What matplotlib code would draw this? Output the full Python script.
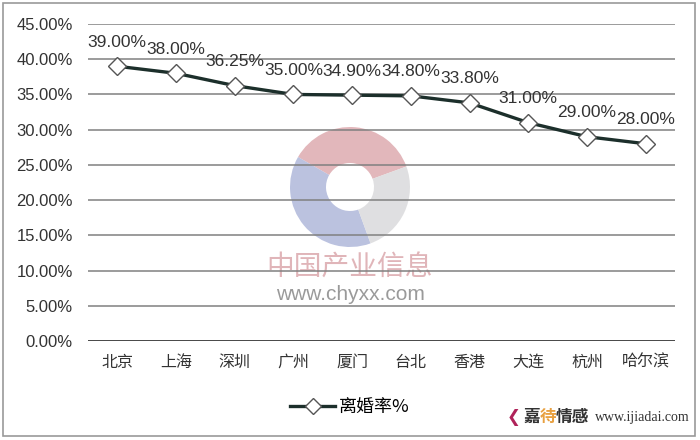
import matplotlib
matplotlib.use("Agg")
import matplotlib.pyplot as plt
from matplotlib.patches import Rectangle, Wedge
from matplotlib.lines import Line2D

plt.rcParams["font.family"] = ["Liberation Sans", "Noto Sans CJK SC", "DejaVu Sans"]

# data
cities = ["北京", "上海", "深圳", "广州", "厦门", "台北", "香港", "大连", "杭州", "哈尔滨"]
divorce_rate = [39.00, 38.00, 36.25, 35.00, 34.90, 34.80, 33.80, 31.00, 29.00, 28.00]
yticks = [0, 5, 10, 15, 20, 25, 30, 35, 40, 45]
series_name = "离婚率%"

fig = plt.figure(figsize=(7, 4.4), dpi=100)
ax = fig.add_axes([88 / 700, 1 - 341 / 440, 587 / 700, 317 / 440])

# faint watermark logo behind the plot
logo_ax = fig.add_axes([290 / 700, 1 - 247 / 440, 120 / 700, 120 / 440], zorder=0)
logo_ax.set_xlim(-1, 1)
logo_ax.set_ylim(-1, 1)
logo_ax.set_aspect("equal")
logo_ax.axis("off")
for t1, t2, col in [(20, 150, "#dba5aa"), (150, 290, "#aab3d8"), (290, 380, "#d8d8da")]:
    logo_ax.add_patch(Wedge((0, 0), 1.0, t1, t2, width=0.6, color=col, alpha=0.8, lw=0))
ax.set_zorder(1)
ax.patch.set_alpha(0)

x = range(len(cities))
ax.plot(x, divorce_rate, color="#1c2f2b", lw=2.4, marker="D", markersize=9,
        markerfacecolor="white", markeredgecolor="#555555", markeredgewidth=1.0, zorder=3)
for xi, v in zip(x, divorce_rate):
    ax.annotate(f"{v:.2f}%", (xi, v), xytext=(0, 14), textcoords="offset points",
                ha="center", va="baseline", fontsize=12.5, color="#333333", zorder=4)

ax.set_xlim(-0.5, len(cities) - 0.5)
ax.set_ylim(0, 45)
ax.set_yticks(yticks)
ax.set_yticklabels([f"{t:.2f}%" for t in yticks], fontsize=12, color="#333333")
ax.set_xticks(list(x))
ax.set_xticklabels(cities, fontsize=11.5, color="#333333", family=["Noto Sans CJK SC", "DejaVu Sans"])
ax.tick_params(axis="both", length=0)
ax.tick_params(axis="y", pad=11)
ax.tick_params(axis="x", pad=9)
for s in ax.spines.values():
    s.set_visible(False)
ax.grid(axis="y", color="#808080", lw=1.1)
ax.set_axisbelow(True)
ax.axhline(0, color="#444444", lw=1.3)

handle = Line2D([], [], color="#1c2f2b", lw=2.4, marker="D", markersize=8,
                markerfacecolor="white", markeredgecolor="#555555")
fig.legend([handle], [series_name], loc="center", bbox_to_anchor=(0.5, 1 - 407 / 440),
           frameon=False, prop={"family": ["Noto Sans CJK SC", "DejaVu Sans"], "size": 13},
           handlelength=2.5, handletextpad=0.2)

# watermark texts
fig.text(350 / 700, 1 - 268 / 440, "中国产业信息", ha="center", va="center", fontsize=20,
         color="#d9a3a8", alpha=0.8, family=["Noto Sans CJK SC"], zorder=0)
fig.text(350 / 700, 1 - 295 / 440, "www.chyxx.com", ha="center", va="center", fontsize=15,
         color="#9a9a9a", zorder=0)

# outer frame
fig.patches.append(Rectangle((3 / 700, 4 / 440), 692 / 700, 433 / 440, transform=fig.transFigure,
                             fill=False, edgecolor="#9a9a9a", lw=1.2))

# bottom-right site mark
fig.text(507 / 700, 1 - 417 / 440, "❮", ha="left", va="center", fontsize=12, color="#b0235a",
         family=["DejaVu Sans"])
fig.text(524 / 700, 1 - 417 / 440, "嘉", ha="left", va="center", fontsize=12, color="#333333",
         weight="bold", family=["Noto Sans CJK SC"])
fig.text(540 / 700, 1 - 417 / 440, "待", ha="left", va="center", fontsize=12, color="#e8a040",
         weight="bold", family=["Noto Sans CJK SC"])
fig.text(556 / 700, 1 - 417 / 440, "情感", ha="left", va="center", fontsize=12, color="#333333",
         weight="bold", family=["Noto Sans CJK SC"])
fig.text(595 / 700, 1 - 417 / 440, "www.ijiadai.com", ha="left", va="center", fontsize=10,
         color="#333333", family=["Liberation Serif"])

fig.savefig("out.png", dpi=100, facecolor="white")
